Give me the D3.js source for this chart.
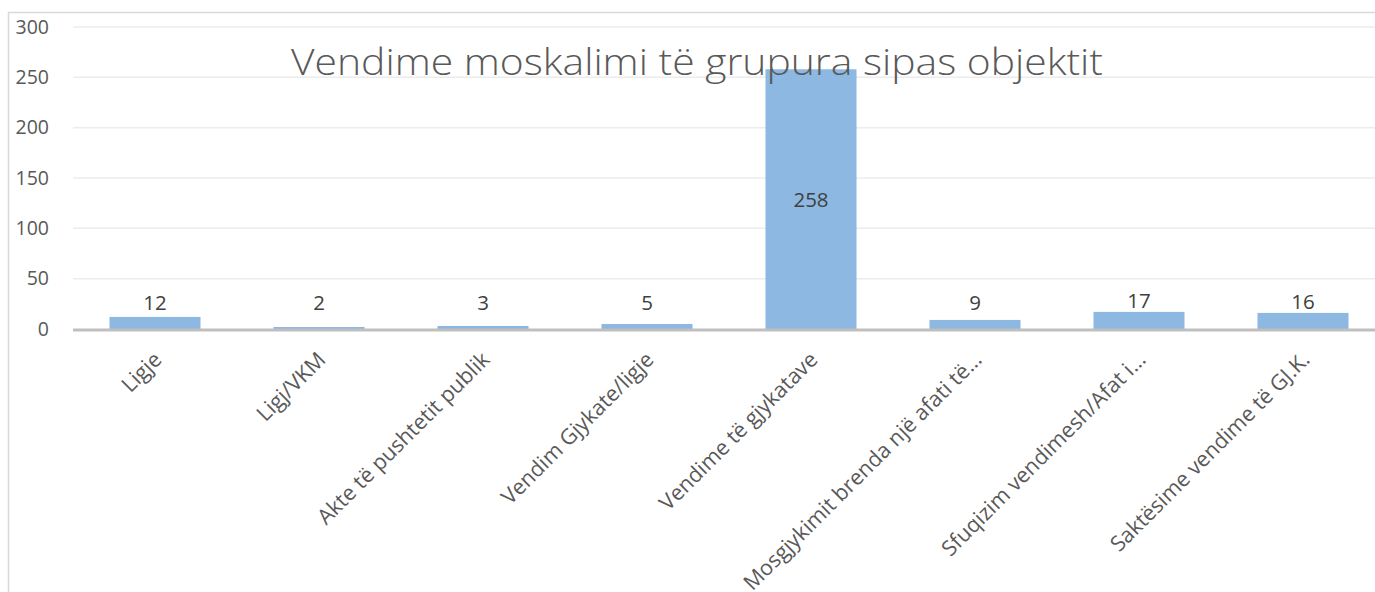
<!DOCTYPE html>
<html>
<head>
<meta charset="utf-8">
<script src="https://cdn.jsdelivr.net/npm/d3@7"></script>
<style>
  body { margin: 0; background: #fff; }
  svg { display: block; font-family: "Open Sans", "Noto Sans", sans-serif; }
</style>
</head>
<body>
<svg id="chart" width="1375" height="592"></svg>
<script>
const categories = [
  'Ligje',
  'Ligj/VKM',
  'Akte të pushtetit publik',
  'Vendim Gjykate/ligje',
  'Vendime të gjykatave',
  'Mosgjykimit brenda një afati të…',
  'Sfuqizim vendimesh/Afat i…',
  'Saktësime vendime të GJ.K.'
];
const values = [12, 2, 3, 5, 258, 9, 17, 16];
const yTicks = [0, 50, 100, 150, 200, 250, 300];
const title = 'Vendime moskalimi të grupura sipas objektit';

const width = 1375, height = 592;
const margin = { top: 27, right: -10, bottom: 263, left: 73 };

const svg = d3.select('#chart');

// chart frame
svg.append('path')
  .attr('d', `M8.5,${height} V12.5 H${width}`)
  .attr('fill', 'none')
  .attr('stroke', '#d9d9d9')
  .attr('stroke-width', 1.5);

const x = d3.scaleBand()
  .domain(categories)
  .range([margin.left, width - margin.right])
  .paddingInner(0.445)
  .paddingOuter(0.2225);

const y = d3.scaleLinear()
  .domain([0, 300])
  .range([height - margin.bottom, margin.top]);

// gridlines
svg.append('g')
  .selectAll('line')
  .data(yTicks.filter(d => d > 0))
  .join('line')
  .attr('x1', margin.left)
  .attr('x2', width)
  .attr('y1', d => y(d))
  .attr('y2', d => y(d))
  .attr('stroke', '#ececec')
  .attr('stroke-width', 1.5);

// y axis labels
const yAxis = svg.append('g')
  .attr('transform', `translate(${margin.left - 24},0)`)
  .call(d3.axisLeft(y).tickValues(yTicks).tickSize(0).tickPadding(0));
yAxis.select('.domain').remove();
yAxis.selectAll('text')
  .attr('font-size', 19.5)
  .attr('fill', '#595959')
  .attr('font-family', '"Open Sans", sans-serif');

// bars
svg.append('g')
  .selectAll('rect')
  .data(values)
  .join('rect')
  .attr('x', (d, i) => x(categories[i]))
  .attr('width', x.bandwidth())
  .attr('y', d => y(d))
  .attr('height', d => y(0) - y(d))
  .attr('fill', '#8cb8e1');

// x axis line
svg.append('line')
  .attr('x1', margin.left)
  .attr('x2', width)
  .attr('y1', y(0) + 1)
  .attr('y2', y(0) + 1)
  .attr('stroke', '#bfbfbf')
  .attr('stroke-width', 3);

// x labels
svg.append('g')
  .selectAll('text')
  .data(categories)
  .join('text')
  .attr('transform', d => `translate(${x(d) + x.bandwidth() / 2 + 8},${y(0) + 32}) rotate(-45)`)
  .attr('text-anchor', 'end')
  .attr('font-size', 21.5)
  .attr('fill', '#595959')
  .text(d => d);

// data labels
svg.append('g')
  .selectAll('text')
  .data(values)
  .join('text')
  .attr('x', (d, i) => x(categories[i]) + x.bandwidth() / 2)
  .attr('y', d => d > 100 ? (y(d) + y(0)) / 2 + 8 : Math.min(y(d) - 4, y(0) - 19))
  .attr('text-anchor', 'middle')
  .attr('font-size', 20.5)
  .attr('fill', '#404040')
  .text(d => d);

// title
svg.append('text')
  .attr('x', 697)
  .attr('y', 75)
  .attr('text-anchor', 'middle')
  .attr('font-size', 36)
  .attr('font-weight', 300)
  .attr('fill', '#595959')
  .attr('textLength', 812)
  .attr('lengthAdjust', 'spacingAndGlyphs')
  .text(title);
</script>
</body>
</html>
